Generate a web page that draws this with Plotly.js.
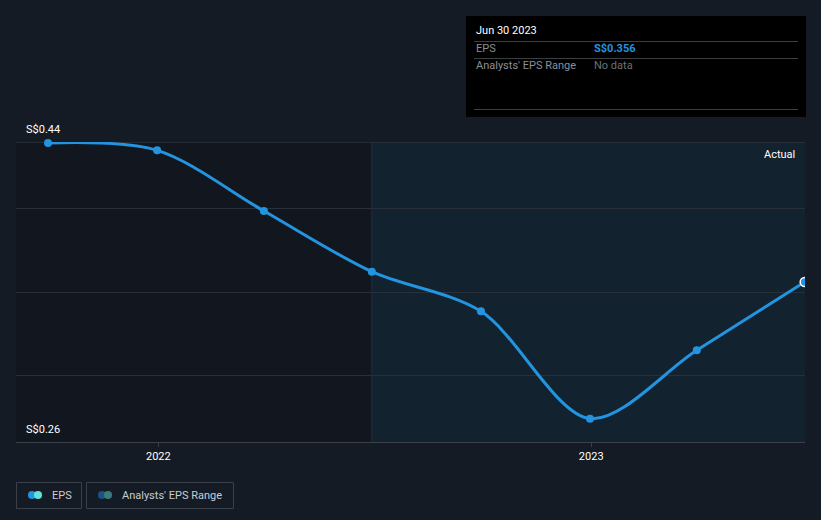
<!DOCTYPE html>
<html><head><meta charset="utf-8">
<script src="https://cdn.plot.ly/plotly-3.0.1.min.js"></script>
<style>html,body{margin:0;padding:0;background:#151b24;}#chart{width:821px;height:520px;}</style>
</head><body><div id="chart"></div>
<script>
// Data
const dates = ['2021-09-30','2021-12-31','2022-03-31','2022-06-30','2022-09-30','2022-12-31','2023-03-31','2023-06-30'];
const eps = [0.4394, 0.435, 0.3986, 0.3622, 0.3384, 0.274, 0.315, 0.356];
const yTicks = [0.26, 0.30, 0.35, 0.40, 0.44];
const yLabels = ['S$0.26', 'S$0.44'];
const xTickVals = ['2022-01-01', '2023-01-01'];
const xTickText = ['2022', '2023'];
const forecastStart = '2022-06-30';
const tooltipDate = 'Jun 30 2023';
const tooltipEps = 'S$0.356';

const W = 821, H = 520, L = 16, R = 805, T = 142, B = 442;
const px = x => (x - L) / (R - L);
const py = y => (B - y) / (B - T);
const font = 'Roboto, "Open Sans", sans-serif';
const xRange = ['2021-09-03', '2023-06-30 06:00'];
const n = dates.length;

const traces = [
  {x: dates, y: eps, type: 'scatter', mode: 'lines',
   line: {color: '#2394df', width: 3, shape: 'spline', smoothing: 0.9},
   hoverinfo: 'skip', cliponaxis: true},
  {x: dates.slice(0, n - 1), y: eps.slice(0, n - 1), type: 'scatter', mode: 'markers',
   marker: {color: '#2394df', size: 8}, hoverinfo: 'skip', cliponaxis: false},
  {x: [dates[n-1]], y: [eps[n-1]], type: 'scatter', mode: 'markers',
   marker: {color: '#2394df', size: 9, line: {color: '#ffffff', width: 1.5}}, hoverinfo: 'skip', cliponaxis: true}
];

const shapes = [
  {type: 'rect', xref: 'x', yref: 'paper', x0: forecastStart, x1: xRange[1], y0: 0, y1: 1,
   fillcolor: '#13222f', line: {width: 0}, layer: 'below'},
  {type: 'line', xref: 'x', yref: 'paper', x0: forecastStart, x1: forecastStart, y0: 0, y1: 1,
   line: {color: '#1f2f3d', width: 1}, layer: 'below'},
  {type: 'line', xref: 'paper', yref: 'y', x0: 0, x1: 1, y0: yTicks[yTicks.length-1], y1: yTicks[yTicks.length-1],
   line: {color: '#3a4049', width: 1}, layer: 'below'},
  // tooltip box
  {type: 'rect', xref: 'paper', yref: 'paper', x0: px(466), x1: px(806), y0: py(117), y1: py(16),
   fillcolor: '#000000', line: {width: 0}},
  {type: 'line', xref: 'paper', yref: 'paper', x0: px(474), x1: px(798), y0: py(41.5), y1: py(41.5), line: {color: '#3a3d42', width: 1}},
  {type: 'line', xref: 'paper', yref: 'paper', x0: px(474), x1: px(798), y0: py(58.5), y1: py(58.5), line: {color: '#3a3d42', width: 1}},
  {type: 'line', xref: 'paper', yref: 'paper', x0: px(474), x1: px(798), y0: py(109.5), y1: py(109.5), line: {color: '#3a3d42', width: 1}},
  // legend boxes
  {type: 'rect', xref: 'paper', yref: 'paper', x0: px(16.5), x1: px(81.5), y0: py(508.5), y1: py(482.5), line: {color: '#3a4049', width: 1}, fillcolor: 'rgba(0,0,0,0)'},
  {type: 'rect', xref: 'paper', yref: 'paper', x0: px(86.5), x1: px(233.5), y0: py(508.5), y1: py(482.5), line: {color: '#3a4049', width: 1}, fillcolor: 'rgba(0,0,0,0)'},
  // legend icons
  {type: 'circle', xref: 'paper', yref: 'paper', x0: px(28), x1: px(36), y0: py(499), y1: py(491), fillcolor: '#2394df', line: {width: 0}},
  {type: 'circle', xref: 'paper', yref: 'paper', x0: px(34), x1: px(42), y0: py(499), y1: py(491), fillcolor: '#5fe3d9', line: {width: 0}},
  {type: 'circle', xref: 'paper', yref: 'paper', x0: px(98), x1: px(106), y0: py(499), y1: py(491), fillcolor: '#1d5285', line: {width: 0}},
  {type: 'circle', xref: 'paper', yref: 'paper', x0: px(104), x1: px(112), y0: py(499), y1: py(491), fillcolor: '#3a7b7b', line: {width: 0}}
];

const ann = (x, y, text, size, color, anchor, extra) => Object.assign({
  xref: 'paper', yref: 'paper', x: px(x), y: py(y), text: text, showarrow: false,
  xanchor: anchor || 'left', yanchor: 'middle', font: {family: font, size: size, color: color}
}, extra || {});

const annotations = [
  {xref: 'paper', yref: 'y', x: px(24), y: yTicks[yTicks.length-1], yshift: 13, text: yLabels[1], showarrow: false,
   xanchor: 'left', yanchor: 'middle', font: {family: font, size: 11, color: '#ffffff'}},
  {xref: 'paper', yref: 'y', x: px(24), y: yTicks[0], yshift: 13, text: yLabels[0], showarrow: false,
   xanchor: 'left', yanchor: 'middle', font: {family: font, size: 11, color: '#ffffff'}},
  ann(797, 154, 'Actual', 11, '#ffffff', 'right'),
  ann(474, 31, tooltipDate, 11, '#ffffff'),
  ann(474, 48.5, 'EPS', 11, '#8a8f96'),
  ann(592, 48.5, '<b>' + tooltipEps + '</b>', 11, '#2394df'),
  ann(474, 66, "Analysts' EPS Range", 11, '#8a8f96'),
  ann(592, 66, 'No data', 11, '#6b7077'),
  ann(50, 495.5, 'EPS', 11, '#c8ccd2'),
  ann(120, 495.5, "Analysts' EPS Range", 11, '#c8ccd2')
];

const layout = {
  width: W, height: H,
  margin: {l: L, r: W - R, t: T, b: H - B},
  paper_bgcolor: '#151b24', plot_bgcolor: '#12171f',
  showlegend: false,
  xaxis: {type: 'date', range: xRange, tickvals: xTickVals, ticktext: xTickText,
    showgrid: false, zeroline: false, showline: true, linecolor: '#3a4049', linewidth: 1,
    ticks: 'outside', ticklen: 4, tickcolor: '#3a4049',
    tickfont: {family: font, size: 11, color: '#ffffff'}, fixedrange: true},
  yaxis: {range: [0.26, 0.44], tickvals: yTicks, showticklabels: false, showgrid: true,
    gridcolor: '#2a3039', gridwidth: 1, zeroline: false, showline: false, fixedrange: true},
  shapes: shapes, annotations: annotations
};

Plotly.newPlot('chart', traces, layout, {displayModeBar: false, staticPlot: true});
</script></body></html>
